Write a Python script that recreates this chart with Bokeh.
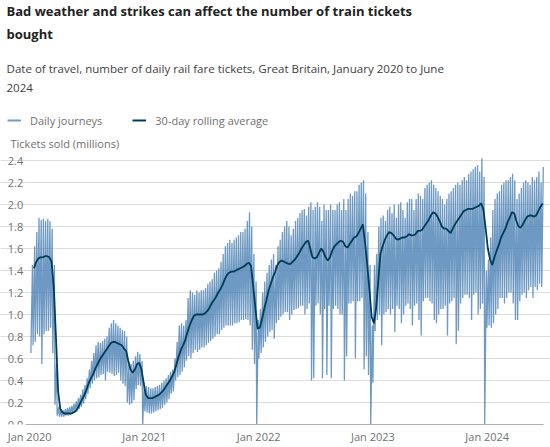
import numpy as np
import pandas as pd
from bokeh.plotting import figure
from bokeh.models import (ColumnDataSource, Legend, LegendItem, FixedTicker, Label,
                          NumeralTickFormatter, DatetimeTickFormatter, Range1d)
from bokeh.embed import file_html
from bokeh.resources import INLINE

# ---------------- data (weekly readings: Sunday low, weekday high, 30-day avg) -------------
first_week = "2020-01-05"

high_2020 = [1.45, 1.62, 1.75, 1.88,  1.86, 1.87, 1.85, 1.87,  1.85, 1.78, 1.45, 0.55, 0.16,
             0.14, 0.13, 0.14, 0.15,  0.16, 0.17, 0.19, 0.21, 0.24,  0.27, 0.32, 0.36, 0.42,
             0.50, 0.58, 0.65, 0.72,  0.75, 0.74, 0.76, 0.78, 0.80,  0.88, 0.92, 0.95, 0.92,
             0.90, 0.88, 0.86, 0.85,  0.80, 0.55, 0.55, 0.58, 0.62,  0.66, 0.64, 0.58, 0.38]
low_2020 = [0.65, 0.72, 0.75, 0.82,  0.80, 0.55, 0.82, 0.85,  0.85, 0.88, 0.65, 0.18, 0.08,
            0.07, 0.07, 0.07, 0.08,  0.08, 0.09, 0.10, 0.11, 0.12,  0.14, 0.16, 0.19, 0.23,
            0.28, 0.33, 0.37, 0.40,  0.42, 0.43, 0.45, 0.46, 0.40,  0.48, 0.47, 0.46, 0.44,
            0.45, 0.47, 0.40, 0.37,  0.35, 0.20, 0.18, 0.19, 0.22,  0.32, 0.36, 0.35, 0.00]
avg_2020 = [np.nan, 1.42, 1.48, 1.51,  1.52, 1.52, 1.53, 1.53,  1.52, 1.48, 1.25, 0.80, 0.30,
            0.14, 0.11, 0.10, 0.10,  0.10, 0.10, 0.11, 0.12, 0.15,  0.19, 0.23, 0.27, 0.32,
            0.38, 0.42, 0.46, 0.51,  0.55, 0.59, 0.62, 0.65, 0.68,  0.71, 0.74, 0.75, 0.75,
            0.74, 0.73, 0.72, 0.69,  0.67, 0.58, 0.50, 0.47, 0.50,  0.55, 0.56, 0.50, 0.38]

high_2021 = [0.35, 0.34, 0.33, 0.33, 0.34,  0.35, 0.36, 0.38, 0.40,  0.42, 0.45, 0.48, 0.50,
             0.60, 0.75, 0.90, 0.92,  0.90, 0.95, 1.15, 1.22, 1.20,  1.18, 1.22, 1.20, 1.22,
             1.22, 1.24, 1.28, 1.30,  1.32, 1.38, 1.40, 1.42, 1.48,  1.55, 1.62, 1.65, 1.68,
             1.65, 1.68, 1.70, 1.72, 1.75,  1.75, 1.78, 1.85, 1.93,  1.80, 1.55, 1.30, 0.95]
low_2021 = [0.12, 0.11, 0.10, 0.10, 0.11,  0.12, 0.13, 0.14, 0.15,  0.18, 0.20, 0.23, 0.28,
            0.30, 0.40, 0.43, 0.45,  0.48, 0.52, 0.58, 0.62, 0.60,  0.65, 0.68, 0.66, 0.68,
            0.70, 0.70, 0.72, 0.74,  0.76, 0.78, 0.80, 0.82, 0.82,  0.86, 0.88, 0.90, 0.90,
            0.90, 0.90, 0.92, 0.92, 0.93,  0.95, 0.95, 0.96, 0.95,  0.90, 0.68, 0.55, 0.00]
avg_2021 = [0.27, 0.24, 0.24, 0.24, 0.25,  0.26, 0.27, 0.29, 0.31,  0.34, 0.37, 0.40, 0.44,
            0.48, 0.55, 0.62, 0.68,  0.72, 0.77, 0.84, 0.90, 0.95,  0.99, 1.00, 1.00, 1.00,
            1.00, 1.01, 1.03, 1.06,  1.10, 1.13, 1.16, 1.20, 1.23,  1.27, 1.32, 1.36, 1.38,
            1.39, 1.39, 1.40, 1.41, 1.42,  1.43, 1.44, 1.46, 1.47,  1.44, 1.25, 1.05, 0.87]

high_2022 = [1.05, 1.20, 1.30, 1.38, 1.45,  1.50, 1.55, 1.45, 1.62,  1.68, 1.75, 1.80, 1.85,
             1.80, 1.72, 1.78, 1.85,  1.88, 1.92, 1.95, 1.96, 1.90,  1.98, 2.02, 1.95, 1.98,
             2.02, 1.98, 1.85, 2.00, 1.95,  1.95, 2.00, 1.95, 1.95,  2.00, 2.02, 1.95, 2.05,
             1.95, 2.05, 2.10, 2.08, 2.12,  2.12, 2.18, 2.20, 2.22,  2.10, 1.75, 1.45, 0.90]
low_2022 = [0.60, 0.65, 0.70, 0.75, 0.80,  0.84, 0.86, 0.78, 0.92,  0.95, 0.98, 1.00, 1.02,
            1.02, 0.95, 1.00, 1.04,  1.05, 1.06, 1.08, 1.08, 1.00,  1.05, 1.10, 0.40, 0.42,
            1.08, 1.10, 1.00, 0.42, 1.05,  0.45, 1.08, 0.42, 1.05,  1.08, 1.05, 1.00, 1.00,
            0.40, 0.62, 1.10, 1.10, 1.12,  0.60, 1.12, 1.12, 1.15,  0.50, 0.62, 0.45, 0.00]
avg_2022 = [0.88, 0.96, 1.05, 1.13, 1.22,  1.28, 1.34, 1.39, 1.45,  1.48, 1.49, 1.48, 1.47,
            1.46, 1.46, 1.48, 1.50,  1.53, 1.56, 1.60, 1.63, 1.66,  1.67, 1.60, 1.52, 1.51,
            1.52, 1.56, 1.60, 1.57, 1.52,  1.49, 1.52, 1.58, 1.62,  1.64, 1.66, 1.67, 1.66,
            1.62, 1.61, 1.64, 1.67, 1.70,  1.71, 1.74, 1.78, 1.82,  1.65, 1.45, 1.22, 0.98]

high_2023 = [1.45, 1.55, 1.80, 1.88, 1.90,  1.85, 1.95, 1.98, 1.92,  2.00, 1.88, 2.00, 2.02,
             1.95, 1.88, 2.02, 2.05, 2.05,  1.95, 2.05, 2.10, 2.08,  2.05, 2.15, 2.18, 2.20,
             2.22, 2.18, 2.15, 2.12, 2.08,  2.05, 2.00, 2.05, 2.10,  2.12, 2.15, 2.18, 2.20,
             2.18, 2.22, 2.25, 2.22, 2.28,  2.30, 2.32, 2.34, 2.36,  2.30, 2.42, 2.25, 1.40, 1.50]
low_2023 = [0.38, 0.85, 0.95, 1.00, 0.72,  1.00, 1.02, 1.05, 1.00,  1.05, 0.84, 1.08, 1.05,
            0.92, 1.00, 1.08, 1.10, 1.05,  0.90, 1.08, 1.10, 0.95,  0.81, 1.12, 1.15, 1.15,
            1.12, 1.10, 0.95, 0.92, 1.00,  1.05, 1.05, 1.08, 0.81,  1.10, 1.12, 1.15, 0.73,
            0.85, 1.10, 1.15, 1.18, 1.18,  1.15, 0.95, 1.18, 1.20,  1.00, 1.05, 1.10, 0.00, 0.88]
avg_2023 = [0.92, 1.05, 1.30, 1.55, 1.62,  1.68, 1.72, 1.75, 1.74,  1.72, 1.69, 1.68, 1.69,
            1.70, 1.70, 1.71, 1.73, 1.72,  1.72, 1.73, 1.76, 1.76,  1.77, 1.80, 1.83, 1.86,
            1.90, 1.93, 1.92, 1.89, 1.85,  1.80, 1.78, 1.78, 1.76,  1.74, 1.78, 1.82, 1.85,
            1.88, 1.91, 1.94, 1.95, 1.96,  1.96, 1.96, 1.97, 1.98,  1.99, 2.01, 1.95, 1.78, 1.60]

high_2024 = [1.70, 1.95, 2.05, 2.10,  2.12, 2.18, 2.20, 2.22,  2.22, 2.25, 2.28, 2.22, 2.05,
             2.10, 2.15, 2.20, 2.22,  2.20, 2.18, 2.25, 2.22,  2.25, 2.30, 2.20, 2.34]
low_2024 = [0.90, 0.88, 0.92, 1.00,  1.05, 1.15, 1.15, 1.10,  1.15, 1.20, 1.20, 1.10, 0.95,
            0.95, 1.12, 1.18, 1.20,  1.15, 1.22, 1.25, 1.15,  1.25, 1.22, 1.28, 1.25]
avg_2024 = [1.50, 1.45, 1.52, 1.58,  1.63, 1.70, 1.74, 1.78,  1.84, 1.88, 1.93, 1.92, 1.85,
            1.80, 1.79, 1.82, 1.86,  1.89, 1.90, 1.90, 1.89,  1.90, 1.94, 1.98, 2.01]

y_ticks = [0.0, 0.2, 0.4, 0.6, 0.8, 1.0, 1.2, 1.4, 1.6, 1.8, 2.0, 2.2, 2.4]
x_tick_dates = ["2020-01-01", "2021-01-01", "2022-01-01", "2023-01-01", "2024-01-01"]

title_lines = ["Bad weather and strikes can affect the number of train tickets", "bought"]
subtitle_lines = ["Date of travel, number of daily rail fare tickets, Great Britain, January 2020 to June",
                  "2024"]
y_title = "Tickets sold (millions)"
series_names = ["Daily journeys", "30-day rolling average"]

# ---------------- assemble -------------
daily_high = high_2020 + high_2021 + high_2022 + high_2023 + high_2024
daily_low = low_2020 + low_2021 + low_2022 + low_2023 + low_2024
rolling = avg_2020 + avg_2021 + avg_2022 + avg_2023 + avg_2024

weeks = pd.date_range(first_week, periods=len(daily_high), freq="7D")
zig_x, zig_y = [], []
for w, lo, hi in zip(weeks, daily_low, daily_high):
    zig_x += [w, w + pd.Timedelta(days=5)]
    zig_y += [lo, hi]
daily_src = ColumnDataSource(dict(x=pd.to_datetime(zig_x), y=zig_y))
avg_x = weeks + pd.Timedelta(days=3)
avg_src = ColumnDataSource(dict(x=avg_x[1:], y=rolling[1:]))

# ---------------- layout constants (styling only) -------------
FONT = "Open Sans"
GREY = "#707070"
DAILY_COL = "#4a80b3"
AVG_COL = "#003c57"
FRAME_W, FRAME_H = 550, 424               # canvas-wide frame; 0-line at 424 px
X_START = pd.Timestamp("2019-09-30")      # canvas left edge
X_END = pd.Timestamp("2024-07-21")        # canvas right edge
PLOT_START = pd.Timestamp("2019-12-18")   # gridlines / y labels anchor
PLOT_END = pd.Timestamp("2024-06-28")
Y_END = 2.4 * FRAME_H / (FRAME_H - 160)   # 2.4 gridline at 160 px from top


def y_at(px_from_top):
    return Y_END * (1 - px_from_top / FRAME_H)


def ms(ts):
    return pd.Timestamp(ts).value / 1e6


p = figure(frame_width=FRAME_W, frame_height=FRAME_H, x_axis_type="datetime",
           output_backend="svg", toolbar_location=None,
           x_range=Range1d(X_START, X_END), y_range=Range1d(0, Y_END),
           min_border_left=0, min_border_right=0, min_border_top=0, min_border_bottom=0)
p.title.visible = False
p.outline_line_color = None

r_daily = p.line("x", "y", source=daily_src, line_color=DAILY_COL, line_alpha=0.8, line_width=1.3)
r_avg = p.line("x", "y", source=avg_src, line_color=AVG_COL, line_width=1.8)
# legend swatches (styled like the reference key; drawn outside the visible range)
k_daily = p.line(x=[X_START, X_START], y=[-1, -1], line_color="#6d9cc6", line_width=2)
k_avg = p.line(x=[X_START, X_START], y=[-1, -1], line_color=AVG_COL, line_width=2)

p.yaxis.fixed_location = ms(PLOT_START)
p.yaxis.ticker = FixedTicker(ticks=y_ticks)
p.yaxis.formatter = NumeralTickFormatter(format="0.0")
p.yaxis.axis_line_color = None
p.yaxis.major_tick_line_color = None
p.yaxis.minor_tick_line_color = None
p.yaxis.major_tick_out = 0
p.yaxis.major_tick_in = 0
p.yaxis.major_label_standoff = 2
p.ygrid.bounds = (ms(PLOT_START), ms(PLOT_END))
p.ygrid.grid_line_color = "#dcdcdc"
p.xgrid.grid_line_color = None

p.xaxis.ticker = FixedTicker(ticks=[ms(d) for d in x_tick_dates])
fmt = "%b %Y"
p.xaxis.formatter = DatetimeTickFormatter(years=fmt, months=fmt, days=fmt, hours=fmt,
                                          minutes=fmt, seconds=fmt, milliseconds=fmt,
                                          microseconds=fmt, hourmin=fmt, minsec=fmt)
p.xaxis.bounds = (ms(PLOT_START), ms(PLOT_END))
p.xaxis.axis_line_color = "#b0b0b0"
p.xaxis.major_tick_line_color = None
p.xaxis.minor_tick_line_color = None
p.xaxis.major_tick_out = 0
p.xaxis.major_tick_in = 0
p.xaxis.minor_tick_out = 0
p.xaxis.minor_tick_in = 0
p.xaxis.major_label_standoff = 4
for ax in (p.xaxis, p.yaxis):
    ax.major_label_text_font = FONT
    ax.major_label_text_font_size = "11px"
    ax.major_label_text_color = GREY


def head_text(text, px, size, color, style="normal", dx=6):
    p.add_layout(Label(x=ms(X_START), y=y_at(px), x_offset=dx, text=text, text_font=FONT,
                       text_font_size=size, text_font_style=style, text_color=color,
                       text_baseline="middle", text_align="left"))


head_text(title_lines[0], 10, "13px", "#222222", "bold")
head_text(title_lines[1], 33, "13px", "#222222", "bold")
head_text(subtitle_lines[0], 68, "11.55px", "#414042")
head_text(subtitle_lines[1], 87, "11.55px", "#414042")
head_text(y_title, 143, "11px", GREY, dx=10)

legend = Legend(items=[LegendItem(label=series_names[0], renderers=[k_daily]),
                       LegendItem(label=series_names[1], renderers=[k_avg])],
                orientation="horizontal", location=(7, FRAME_H - 120 - 10),
                label_text_font=FONT, label_text_font_size="11px", label_text_color=GREY,
                glyph_width=14, label_standoff=9, spacing=30,
                padding=0, margin=0, border_line_color=None, background_fill_alpha=0)
p.add_layout(legend)

open("out.html", "w").write(file_html(p, INLINE))
